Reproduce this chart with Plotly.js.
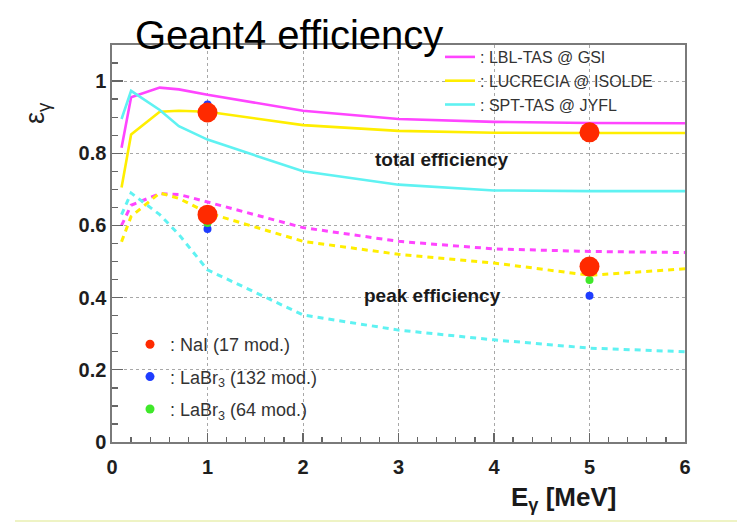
<!DOCTYPE html>
<html>
<head>
<meta charset="utf-8">
<script src="https://cdn.plot.ly/plotly-3.0.1.min.js"></script>
<style>html,body{margin:0;padding:0;background:#fff;}#chart{width:737px;height:523px;}</style>
</head>
<body>
<div id="chart"></div>
<script>
// Gamma energy grid (MeV)
const energy = [0.1, 0.2, 0.5, 0.7, 1, 2, 3, 4, 5, 6];
// Total efficiency
const totLBL = [0.815, 0.955, 0.982, 0.977, 0.962, 0.918, 0.895, 0.887, 0.884, 0.883];
const totLUC = [0.705, 0.852, 0.915, 0.918, 0.915, 0.878, 0.862, 0.857, 0.856, 0.856];
const totSPT = [0.895, 0.973, 0.920, 0.875, 0.838, 0.750, 0.713, 0.697, 0.695, 0.695];
// Peak efficiency
const peakLBL = [0.600, 0.656, 0.688, 0.686, 0.665, 0.594, 0.556, 0.535, 0.528, 0.525];
const peakLUC = [0.555, 0.625, 0.690, 0.675, 0.635, 0.556, 0.520, 0.496, 0.462, 0.480];
const peakSPT = [0.630, 0.690, 0.630, 0.575, 0.477, 0.352, 0.310, 0.283, 0.260, 0.250];
// Detector points
const naiE = [1, 5, 1, 5];
const naiEff = [0.913, 0.858, 0.630, 0.486];
const labr132E = [1, 1, 5];
const labr132Eff = [0.935, 0.590, 0.405];
const labr64E = [1, 5];
const labr64Eff = [0.607, 0.449];
// Names
const setupNames = [': LBL-TAS @ GSI', ': LUCRECIA @ ISOLDE', ': SPT-TAS @ JYFL'];
const detNames = [': NaI (17 mod.)', ': LaBr<sub>3</sub> (132 mod.)', ': LaBr<sub>3</sub> (64 mod.)'];
// Ticks
const xTicks = [0, 1, 2, 3, 4, 5, 6];
const xTickText = ['0', '1', '2', '3', '4', '5', '6'];
const yTicks = [0, 0.2, 0.4, 0.6, 0.8, 1];
const yTickText = ['0', '0.2', '0.4', '0.6', '0.8', '1'];

const cMag = '#ff45ff', cYel = '#ffee00', cCyan = '#5ff2f2';
const cRed = '#ff2a00', cBlue = '#1e3cff', cGreen = '#3fe82a';

function solid(y, name, color) {
  return {x: energy, y: y, name: name, mode: 'lines', type: 'scatter',
    line: {color: color, width: 2.6}, legend: 'legend', hoverinfo: 'skip'};
}
function dashed(y, color) {
  return {x: energy, y: y, mode: 'lines', type: 'scatter', showlegend: false,
    line: {color: color, width: 3, dash: '6px,5px'}, hoverinfo: 'skip'};
}
function pts(x, y, color, size) {
  return {x: x, y: y, mode: 'markers', type: 'scatter', showlegend: false,
    marker: {color: color, size: size, line: {width: 0}}};
}
function legendDot(name, color, grp) {
  return {x: [null], y: [null], name: name, mode: 'markers', type: 'scatter',
    legend: 'legend2', legendgroup: grp, marker: {color: color, size: 9}};
}

const data = [
  solid(totLBL, setupNames[0], cMag),
  solid(totLUC, setupNames[1], cYel),
  solid(totSPT, setupNames[2], cCyan),
  dashed(peakLBL, cMag),
  dashed(peakLUC, cYel),
  dashed(peakSPT, cCyan),
  pts(labr132E, labr132Eff, cBlue, 8),
  pts(labr64E, labr64Eff, cGreen, 8),
  pts(naiE, naiEff, cRed, 20),
  legendDot(detNames[0], cRed, 'g1'),
  legendDot(detNames[1], cBlue, 'g2'),
  legendDot(detNames[2], cGreen, 'g3')
];

const fontFam = '"Liberation Sans", Arial, Helvetica, sans-serif';
const L = 112, R = 52, T = 45, B = 81;
const PW = 737 - L - R, PH = 523 - T - B;
const px2x = p => (p - L) / PW;
const px2y = p => (523 - B - p) / PH;

const axisCommon = {
  ticks: 'inside', tickcolor: '#666', tickwidth: 1.3,
  showline: true, linecolor: '#7a7a7a', linewidth: 1.6, mirror: true,
  showgrid: true, gridcolor: '#a8a8a8', griddash: 'dot', gridwidth: 1,
  zeroline: false, fixedrange: true,
  tickfont: {family: fontFam, size: 20, color: '#1e1e1e', weight: 700}
};

const layout = {
  width: 737, height: 523,
  margin: {l: L, r: R, t: T, b: B, pad: 0},
  paper_bgcolor: '#ffffff', plot_bgcolor: '#ffffff',
  font: {family: fontFam, color: '#222'},
  title: {text: 'Geant4 efficiency', font: {family: fontFam, size: 40, color: '#000'},
    xref: 'container', x: 135 / 737, xanchor: 'left',
    yref: 'container', y: 1 - 35 / 523, yanchor: 'middle'},
  xaxis: Object.assign({}, axisCommon, {
    range: [0, 6], tickmode: 'array', tickvals: xTicks, ticktext: xTickText, ticklen: 9,
    ticklabelstandoff: 6,
    minor: {dtick: 0.2, tick0: 0, ticks: 'inside', ticklen: 5, tickcolor: '#666', showgrid: false}
  }),
  yaxis: Object.assign({}, axisCommon, {
    range: [0, 1.1], tickmode: 'array', tickvals: yTicks, ticktext: yTickText, ticklen: 11,
    minor: {dtick: 0.05, tick0: 0, ticks: 'inside', ticklen: 6, tickcolor: '#666', showgrid: false}
  }),
  showlegend: true,
  legend: {x: px2x(440), y: px2y(40), xanchor: 'left', yanchor: 'top', xref: 'paper', yref: 'paper',
    bgcolor: 'rgba(0,0,0,0)', borderwidth: 0, font: {family: fontFam, size: 16, color: '#333'},
    traceorder: 'normal'},
  legend2: {x: px2x(130), y: px2y(326), xanchor: 'left', yanchor: 'top', xref: 'paper', yref: 'paper',
    bgcolor: 'rgba(0,0,0,0)', borderwidth: 0, font: {family: fontFam, size: 18, color: '#333'},
    tracegroupgap: 6},
  annotations: [
    {x: 3.45, y: 0.782, xref: 'x', yref: 'y', xanchor: 'center', yanchor: 'middle',
      text: '<b>total efficiency</b>', showarrow: false,
      font: {family: fontFam, size: 19, color: '#1a1a1a'}},
    {x: 3.36, y: 0.405, xref: 'x', yref: 'y', xanchor: 'center', yanchor: 'middle',
      text: '<b>peak efficiency</b>', showarrow: false,
      font: {family: fontFam, size: 19, color: '#1a1a1a'}},
    {x: px2x(37), y: px2y(113), xref: 'paper', yref: 'paper', xanchor: 'center', yanchor: 'middle',
      text: 'ε<sub>γ</sub>', textangle: -90,
      showarrow: false, font: {family: fontFam, size: 27, color: '#222'}},
    {x: px2x(563), y: px2y(498), xref: 'paper', yref: 'paper', xanchor: 'center', yanchor: 'middle',
      text: '<b>E<sub>γ</sub> [MeV]</b>',
      showarrow: false, font: {family: fontFam, size: 26, color: '#1a1a1a'}}
  ],
  shapes: [
    {type: 'rect', layer: 'between', xref: 'paper', yref: 'paper',
      x0: px2x(420), x1: px2x(684), y0: px2y(113), y1: px2y(46),
      fillcolor: '#ffffff', line: {width: 0}},
    {type: 'rect', layer: 'between', xref: 'paper', yref: 'paper',
      x0: px2x(128), x1: px2x(343), y0: px2y(428), y1: px2y(327),
      fillcolor: '#ffffff', line: {width: 0}},
    {type: 'line', xref: 'paper', yref: 'paper', x0: px2x(15), x1: px2x(737), y0: px2y(521), y1: px2y(521),
      line: {color: '#eef3c4', width: 2}}
  ]
};

Plotly.newPlot('chart', data, layout, {displayModeBar: false, staticPlot: true});
</script>
</body>
</html>
